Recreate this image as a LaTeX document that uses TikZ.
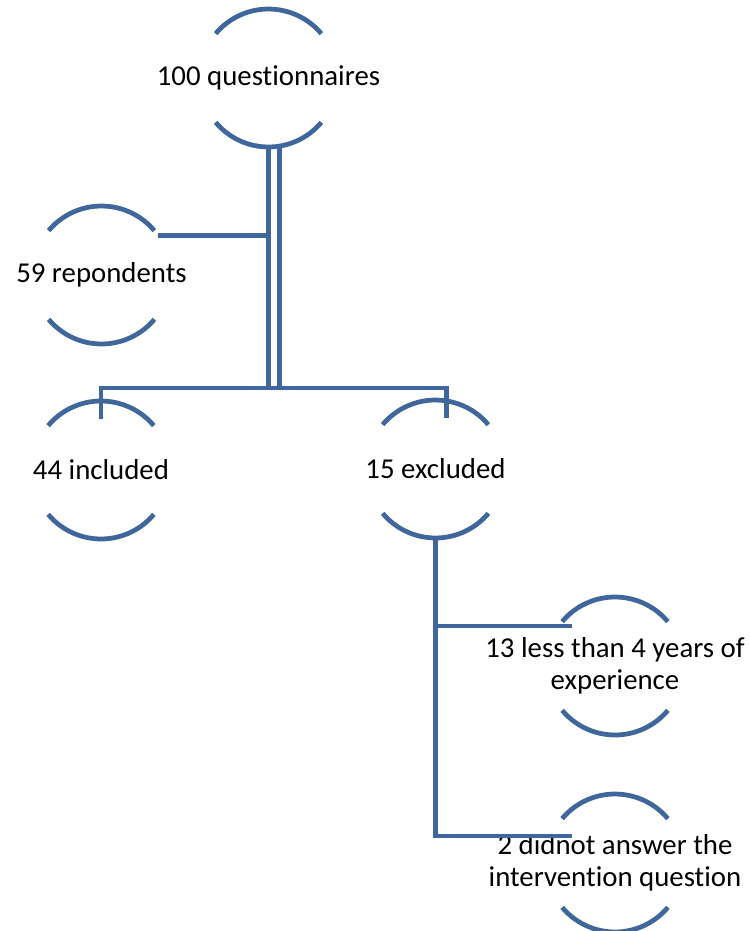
\documentclass[tikz,border=0pt]{standalone}
\usepackage{fontspec}
\setmainfont{Carlito}[Ligatures=NoCommon]
\definecolor{smartblue}{RGB}{64,103,155}
\newcommand{\bubarcs}[1]{%
  \draw[conn] (#1.40) arc[start angle=40,end angle=140,radius=69];
  \draw[conn] (#1.220) arc[start angle=220,end angle=320,radius=69];}
\begin{document}
\begin{tikzpicture}[x=0.02cm,y=0.02cm,
  conn/.style={smartblue,line width=2.7pt},
  bub/.style={circle,minimum size=2.76cm,inner sep=0pt,outer sep=0pt},
  txt/.style={align=center,inner sep=0pt,font=\fontsize{16.4}{18}\selectfont}]
  \useasboundingbox (0,-931) rectangle (750,0);
  \clip (0,-931) rectangle (750,0);
  \node[bub] (q) at (268.5,-78) {};
  \node[bub] (r) at (101.5,-275) {};
  \node[bub] (inc) at (101,-470) {};
  \node[bub] (exc) at (435.5,-469) {};
  \node[bub] (less) at (615,-666) {};
  \node[bub] (dna) at (615,-863) {};
  \node[txt] (q-t) at (q) {100 questionnaires};
  \node[txt] (r-t) at (r) {59 repondents};
  \node[txt] (inc-t) at (inc) {44 included};
  \node[txt] (exc-t) at (exc) {15 excluded};
  \node[txt] (less-t) at (less) {13 less than 4 years of\\experience};
  \node[txt] (dna-t) at (dna) {2 didnot answer the\\intervention question};
  \foreach \n in {q,r,inc,exc,less,dna} {\bubarcs{\n}}
  % tree lines
  \coordinate (bar) at (275,-388);
  \coordinate (q-r) at ([shift={(11,0)}]q.south);
  \draw[conn] (q.south) -- (q.south |- bar);
  \draw[conn] (q-r) -- (q-r |- bar);
  \draw[conn] ([shift={(0,-18)}]inc.north) |- (bar) -| ([shift={(11,-18)}]exc.north);
  \draw[conn] (r.35) -- (r.35 -| q.south);
  \draw[conn] (exc.south) |- ([shift={(-43,40)}]less.center);
  \draw[conn] (exc.south) |- ([shift={(-43,27)}]dna.center);
\end{tikzpicture}
\end{document}
